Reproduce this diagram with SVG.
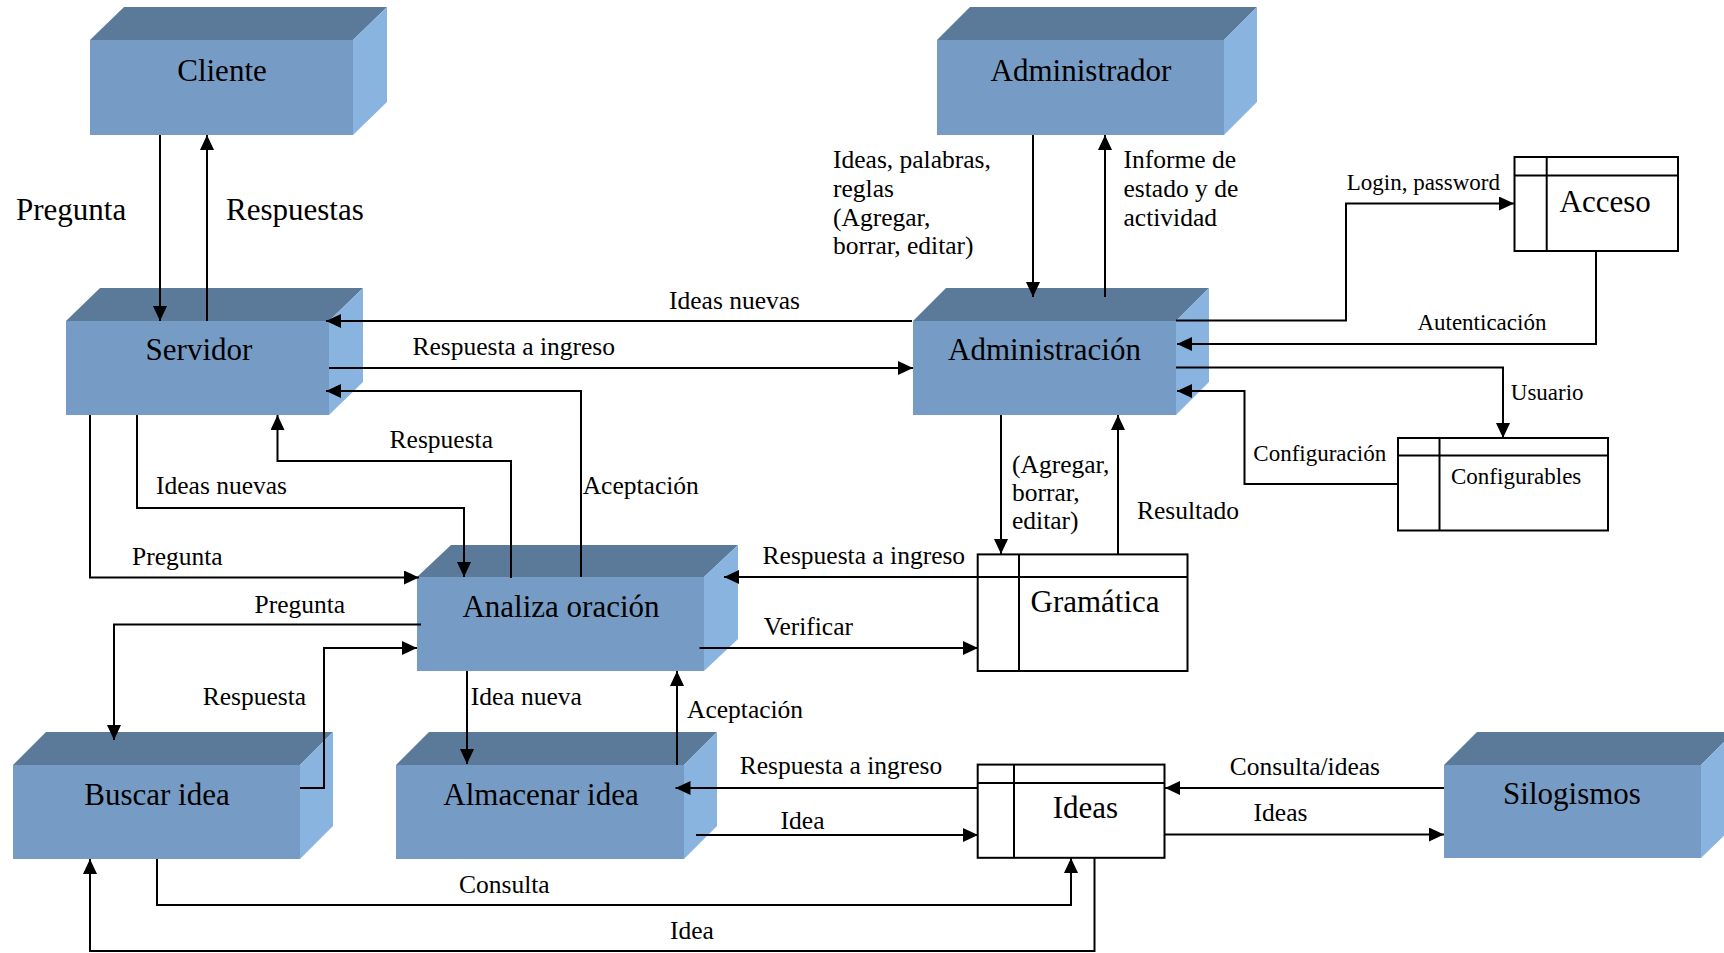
<svg xmlns="http://www.w3.org/2000/svg" width="1724" height="953" viewBox="0 0 1724 953">
  <style>
    text { font-family: "Liberation Serif", "Times New Roman", serif; fill: #000; }
    .big { font-size: 31px; }
    .mid { font-size: 25.5px; }
    .small { font-size: 23px; }
    .mc { text-anchor: middle; }
    .front { fill: #769cc5; }
    .top { fill: #5b7a99; }
    .side { fill: #89b4e0; }
    .store { fill: #fff; stroke: #000; stroke-width: 2; }
    .sline { stroke: #000; stroke-width: 2; fill: none; }
    .flow { stroke: #000; stroke-width: 2; fill: none; marker-end: url(#arrow); }
  </style>
  <defs>
    <marker id="arrow" markerUnits="userSpaceOnUse" markerWidth="16" markerHeight="14" refX="15" refY="7" orient="auto">
      <path d="M0,0 L15,7 L0,14 Z" fill="#000"/>
    </marker>
  </defs>
  <rect width="1724" height="953" fill="#fff"/>

  <!-- 3D process blocks -->
  <g id="cliente">
    <polygon class="top" points="90,135 90,40 124,7 387,7 353,40"/>
    <polygon class="side" points="353,40 387,7 387,102 353,135"/>
    <rect class="front" x="90" y="40" width="263" height="95"/>
    <text class="big mc" x="222" y="81">Cliente</text>
  </g>
  <g id="servidor">
    <polygon class="top" points="66,321 100,288 363,288 329,321"/>
    <polygon class="side" points="329,321 363,288 363,382 329,415"/>
    <rect class="front" x="66" y="321" width="263" height="94"/>
    <text class="big mc" x="199" y="360">Servidor</text>
  </g>
  <g id="administrador">
    <polygon class="top" points="937,40 970,7 1257,7 1224,40"/>
    <polygon class="side" points="1224,40 1257,7 1257,102 1224,135"/>
    <rect class="front" x="937" y="40" width="287" height="95"/>
    <text class="big mc" x="1081" y="81">Administrador</text>
  </g>
  <g id="administracion">
    <polygon class="top" points="913,321 946,288 1209,288 1176,321"/>
    <polygon class="side" points="1176,321 1209,288 1209,382 1176,415"/>
    <rect class="front" x="913" y="321" width="263" height="94"/>
    <text class="big mc" x="1044.5" y="360">Administración</text>
  </g>
  <g id="analiza">
    <polygon class="top" points="417,577 451,545 738,545 704,577"/>
    <polygon class="side" points="704,577 738,545 738,639 704,671"/>
    <rect class="front" x="417" y="577" width="287" height="94"/>
    <text class="big mc" x="561" y="617">Analiza oración</text>
  </g>
  <g id="buscar">
    <polygon class="top" points="13,765 46,732 333,732 300,765"/>
    <polygon class="side" points="300,765 333,732 333,826 300,859"/>
    <rect class="front" x="13" y="765" width="287" height="94"/>
    <text class="big mc" x="157" y="805">Buscar idea</text>
  </g>
  <g id="almacenar">
    <polygon class="top" points="396,765 429,732 717,732 684,765"/>
    <polygon class="side" points="684,765 717,732 717,826 684,859"/>
    <rect class="front" x="396" y="765" width="288" height="94"/>
    <text class="big mc" x="541" y="805">Almacenar idea</text>
  </g>
  <g id="silogismos">
    <polygon class="top" points="1444,765 1477,732 1734,732 1701,765"/>
    <polygon class="side" points="1701,765 1734,732 1734,826 1701,858"/>
    <rect class="front" x="1444" y="765" width="257" height="93"/>
    <text class="big mc" x="1572" y="804">Silogismos</text>
  </g>

  <!-- data stores -->
  <g id="acceso">
    <rect class="store" x="1514.5" y="157" width="163.5" height="94"/>
    <line class="sline" x1="1514.5" y1="175.5" x2="1678" y2="175.5"/>
    <line class="sline" x1="1546.7" y1="157" x2="1546.7" y2="251"/>
    <text class="big" x="1559.5" y="211.5">Acceso</text>
  </g>
  <g id="configurables">
    <rect class="store" x="1398" y="438" width="210" height="92.5"/>
    <line class="sline" x1="1398" y1="455.5" x2="1608" y2="455.5"/>
    <line class="sline" x1="1439.5" y1="438" x2="1439.5" y2="530.5"/>
    <text class="small" x="1451" y="484">Configurables</text>
  </g>
  <g id="gramatica">
    <rect class="store" x="977.7" y="554.4" width="209.8" height="116.6"/>
    <line class="sline" x1="977.7" y1="577" x2="1187.5" y2="577"/>
    <line class="sline" x1="1019" y1="554.4" x2="1019" y2="671"/>
    <text class="big" x="1030.5" y="612">Gramática</text>
  </g>
  <g id="ideas">
    <rect class="store" x="977.7" y="764.6" width="186.8" height="93.2"/>
    <line class="sline" x1="977.7" y1="783" x2="1164.5" y2="783"/>
    <line class="sline" x1="1014" y1="764.6" x2="1014" y2="857.8"/>
    <text class="big" x="1052.7" y="818">Ideas</text>
  </g>

  <!-- data flows -->
  <g id="connectors">
    <path class="flow" d="M160,135 V321"/>
    <path class="flow" d="M207,321 V135"/>
    <path class="flow" d="M912,321 H326"/>
    <path class="flow" d="M329,368 H913"/>
    <path class="flow" d="M581,577 V391 H326"/>
    <path class="flow" d="M511,578 V461 H277.5 V415"/>
    <path class="flow" d="M137,415 V508 H464 V577"/>
    <path class="flow" d="M90,415 V577.5 H419"/>
    <path class="flow" d="M421,624.5 H114 V740"/>
    <path class="flow" d="M300,788 H324 V648 H417"/>
    <path class="flow" d="M467,671 V764"/>
    <path class="flow" d="M677,765 V671"/>
    <path class="flow" d="M978,577 H724"/>
    <path class="flow" d="M699.5,648 H978"/>
    <path class="flow" d="M1001,415 V554"/>
    <path class="flow" d="M1118,554 V415"/>
    <path class="flow" d="M1033,135 V297"/>
    <path class="flow" d="M1105,297 V135"/>
    <path class="flow" d="M1176,320.5 H1346 V203.5 H1514"/>
    <path class="flow" d="M1596,251 V344 H1177"/>
    <path class="flow" d="M1176,367.5 H1503 V438"/>
    <path class="flow" d="M1398,484 H1244.5 V391 H1177"/>
    <path class="flow" d="M978,788 H675.5"/>
    <path class="flow" d="M696,835 H978"/>
    <path class="flow" d="M157,859 V905 H1071 V858"/>
    <path class="flow" d="M1094.5,858 V951 H90 V859"/>
    <path class="flow" d="M1444,788 H1165"/>
    <path class="flow" d="M1164.5,834.5 H1444"/>

    <!-- flow labels -->
    <text class="big" x="16" y="220">Pregunta</text>
    <text class="big" x="226" y="220">Respuestas</text>
    <text class="mid" x="833" y="168">Ideas, palabras,</text>
    <text class="mid" x="833" y="197">reglas</text>
    <text class="mid" x="833" y="226">(Agregar,</text>
    <text class="mid" x="833" y="254">borrar, editar)</text>
    <text class="mid" x="1123.5" y="168">Informe de</text>
    <text class="mid" x="1123.5" y="197">estado y de</text>
    <text class="mid" x="1123.5" y="226">actividad</text>
    <text class="mid" x="669" y="309">Ideas nuevas</text>
    <text class="mid" x="412.5" y="355">Respuesta a ingreso</text>
    <text class="small" x="1346.7" y="189.5">Login, password</text>
    <text class="small" x="1417.4" y="329.5">Autenticación</text>
    <text class="small" x="1510.8" y="399.5">Usuario</text>
    <text class="small" x="1253.3" y="461">Configuración</text>
    <text class="mid" x="389.6" y="447.5">Respuesta</text>
    <text class="mid" x="156" y="494">Ideas nuevas</text>
    <text class="mid" x="582.7" y="494">Aceptación</text>
    <text class="mid" x="132" y="565">Pregunta</text>
    <text class="mid" x="254.5" y="612.5">Pregunta</text>
    <text class="mid" x="202.8" y="705">Respuesta</text>
    <text class="mid" x="470.7" y="705">Idea nueva</text>
    <text class="mid" x="687" y="718">Aceptación</text>
    <text class="mid" x="1012" y="472.5">(Agregar,</text>
    <text class="mid" x="1012" y="500.5">borrar,</text>
    <text class="mid" x="1012" y="529">editar)</text>
    <text class="mid" x="1137" y="519">Resultado</text>
    <text class="mid" x="762.6" y="564">Respuesta a ingreso</text>
    <text class="mid" x="763.8" y="634.5">Verificar</text>
    <text class="mid" x="739.7" y="774">Respuesta a ingreso</text>
    <text class="mid" x="780.6" y="828.5">Idea</text>
    <text class="mid" x="1229.8" y="774.7">Consulta/ideas</text>
    <text class="mid" x="1253.6" y="821">Ideas</text>
    <text class="mid" x="459" y="893">Consulta</text>
    <text class="mid" x="670" y="939">Idea</text>
  </g>
</svg>
